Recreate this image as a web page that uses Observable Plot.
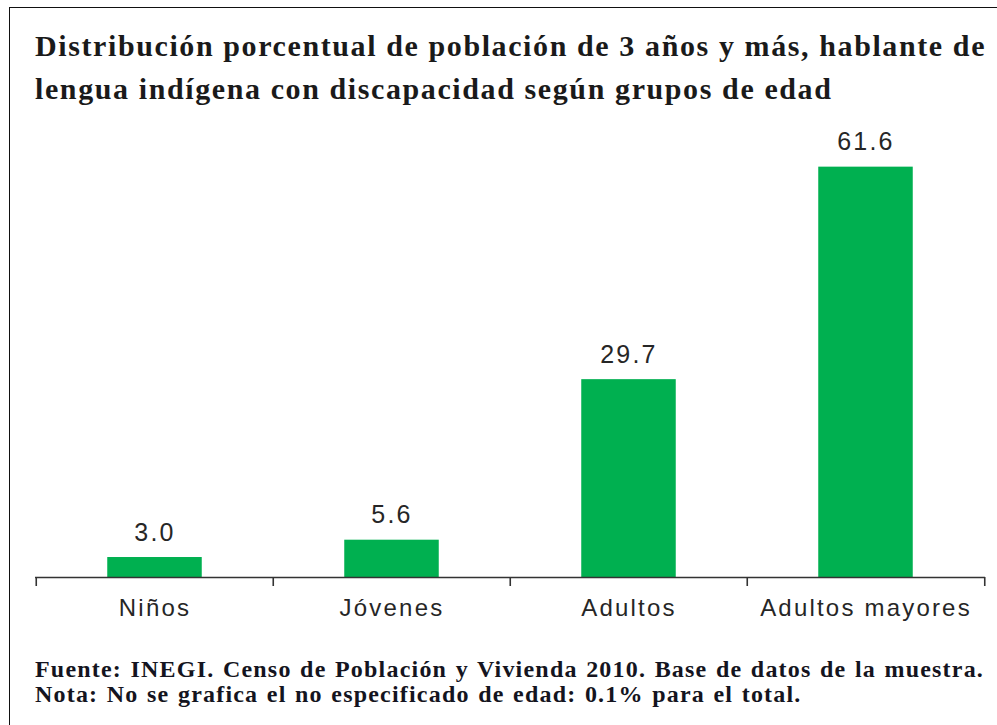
<!DOCTYPE html>
<html>
<head>
<meta charset="utf-8">
<script src="https://cdn.jsdelivr.net/npm/d3@7"></script>
<script src="https://cdn.jsdelivr.net/npm/@observablehq/plot@0.6"></script>
<style>
  html, body { margin: 0; padding: 0; background: #fff; }
  body { width: 997px; height: 725px; overflow: hidden; position: relative; }
  #frame { position: absolute; left: 9px; top: 7px; width: 1000px; height: 800px;
           border-left: 1.5px solid #111; border-top: 1.5px solid #111; }
  #title { position: absolute; left: 35px; top: 24px; margin: 0;
           font-family: "Liberation Serif", "Times New Roman", serif; font-weight: bold;
           font-size: 30px; line-height: 43px; letter-spacing: 1.6px; word-spacing: 0px;
           color: #1a1a1a; white-space: nowrap; }
  #chart { position: absolute; left: 0; top: 110px; }
  #caption { position: absolute; left: 35px; top: 657px; margin: 0;
             font-family: "Liberation Serif", "Times New Roman", serif; font-weight: bold;
             font-size: 24px; line-height: 24.5px; letter-spacing: 1.2px; word-spacing: 1.3px;
             color: #141420; white-space: nowrap; }
</style>
</head>
<body>
<div id="frame"></div>
<div id="title">Distribución porcentual de población de 3 años y más, hablante de<br>lengua indígena con discapacidad según grupos de edad</div>
<div id="chart"></div>
<div id="caption">Fuente: INEGI. Censo de Población y Vivienda 2010. Base de datos de la muestra.<br>Nota: No se grafica el no especificado de edad: 0.1% para el total.</div>
<script>
const categories = ["Niños", "Jóvenes", "Adultos", "Adultos mayores"];
const values = [3.0, 5.6, 29.7, 61.6];

const data = categories.map((c, i) => ({category: c, value: values[i]}));

const W = 997, H = 520, mL = 35, mR = 12, mT = 34, mB = 53;
const step = (W - mL - mR) / categories.length;
const barInset = (step - 95) / 2;

const chart = Plot.plot({
  width: W,
  height: H,
  marginLeft: mL,
  marginRight: mR,
  marginTop: mT,
  marginBottom: mB,
  style: {fontFamily: "'Liberation Sans', Arial, sans-serif", color: "#262626", background: "transparent", letterSpacing: "2.2px"},
  x: {domain: categories, padding: 0, axis: null, label: null},
  y: {domain: [0, 65], axis: null},
  marks: [
    Plot.barY(data, {x: "category", y: "value", fill: "#00b050", insetLeft: barInset, insetRight: barInset}),
    Plot.text(data, {x: "category", y: "value", text: d => d.value.toFixed(1), dy: -25, fontSize: 25, fill: "#262626"}),
    Plot.ruleY([0], {stroke: "#333", strokeWidth: 1.6}),
    Plot.axisX(categories, {dx: -step / 2, tickSize: 9, tickFormat: () => "", label: null, stroke: "#333", strokeWidth: 1.6}),
    Plot.axisX([categories[categories.length - 1]], {dx: step / 2, tickSize: 9, tickFormat: () => "", label: null, stroke: "#333", strokeWidth: 1.6}),
    Plot.axisX(categories, {tickSize: 0, tickPadding: 21, fontSize: 24, label: null, fill: "#262626", style: {letterSpacing: "2.6px"}})
  ]
});
document.getElementById("chart").appendChild(chart);
</script>
</body>
</html>
